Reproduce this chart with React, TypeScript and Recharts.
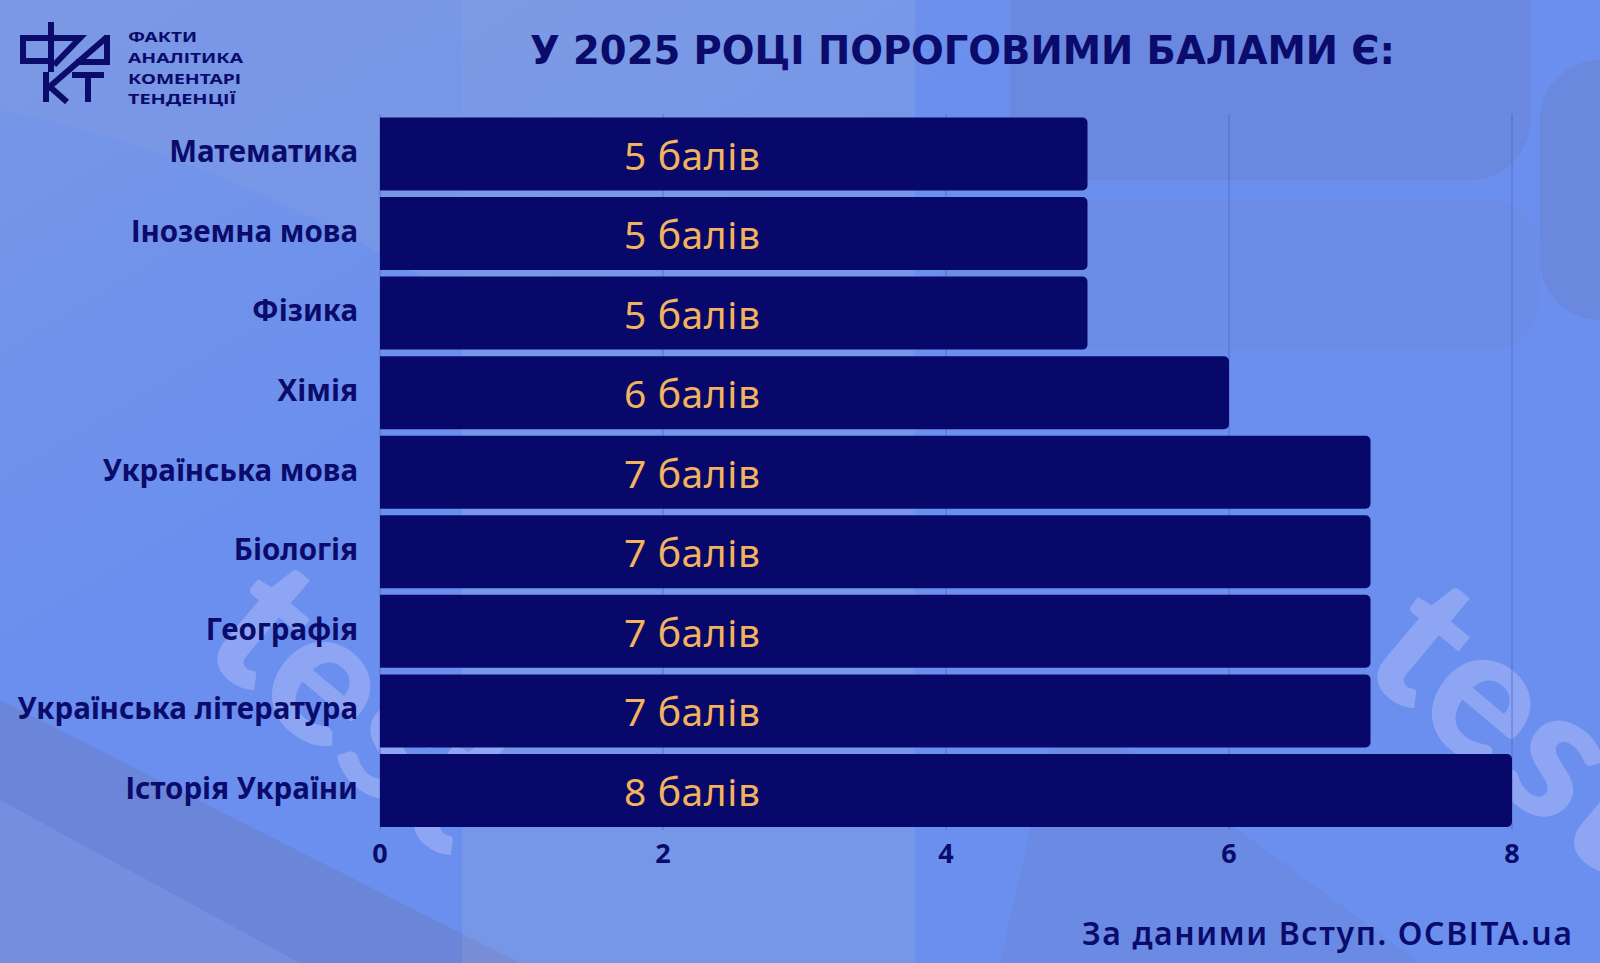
import { BarChart, Bar, XAxis, YAxis, CartesianGrid, LabelList } from 'recharts';

const subjects = [
  'Математика',
  'Іноземна мова',
  'Фізика',
  'Хімія',
  'Українська мова',
  'Біологія',
  'Географія',
  'Українська література',
  'Історія України',
];
const scores = [5, 5, 5, 6, 7, 7, 7, 7, 8];
const xTicks = [0, 2, 4, 6, 8];
const logoLines = ['ФАКТИ', 'АНАЛІТИКА', 'КОМЕНТАРІ', 'ТЕНДЕНЦІЇ'];

const data = subjects.map((subject, i) => ({
  subject,
  score: scores[i],
  label: `${scores[i]} балів`,
}));

const NAVY = '#0b0b6b';
const BAR = '#08086a';
const ORANGE = '#f2b25e';

function ScoreLabel(props: any) {
  const vb = props.viewBox ?? props;
  const { x, y, height } = vb;
  return (
    <text
      x={x + 244}
      y={y + height / 2}
      dominantBaseline="central"
      fill={ORANGE}
      fontSize={39}
      fontFamily="'Noto Sans', sans-serif"
      textLength={136}
      lengthAdjust="spacing"
    >
      {props.value}
    </text>
  );
}

function SubjectTick(props: any) {
  const { x, y, payload } = props;
  return (
    <text
      x={x}
      y={y - 3}
      textAnchor="end"
      dominantBaseline="central"
      fill={NAVY}
      fontSize={29.5}
      fontWeight={700}
      fontFamily="'Noto Sans', sans-serif"
    >
      {payload.value}
    </text>
  );
}

function Background() {
  return (
    <svg width={1600} height={963} style={{ position: 'absolute', left: 0, top: 0 }}>
      <defs>
        <linearGradient id="bg" x1="0" y1="0" x2="1" y2="1">
          <stop offset="0%" stopColor="#7897e6" />
          <stop offset="35%" stopColor="#6a8fee" />
          <stop offset="100%" stopColor="#6a8fee" />
        </linearGradient>
      </defs>
      <rect width={1600} height={963} fill="url(#bg)" />
      {/* top-left lighter area */}
      <path d="M0,0 H462 V300 C360,240 200,150 0,110 Z" fill="#7d99e2" opacity={0.6} />
      {/* keyboard keys, top right */}
      <rect x={1010} y={-60} width={520} height={240} rx={60} fill="#6a84d4" opacity={0.55} />
      <rect x={1540} y={60} width={200} height={260} rx={60} fill="#6a84d4" opacity={0.6} />
      <rect x={940} y={200} width={600} height={150} rx={50} fill="#6f8ad8" opacity={0.3} />
      {/* bottom-left diagonal bands */}
      <path d="M0,700 L520,963 H0 Z" fill="#6c82d2" opacity={0.75} />
      <path d="M0,800 L300,963 H0 Z" fill="#7b95e0" opacity={0.6} />
      <path d="M1060,700 L1420,963 H1000 Z" fill="#6a82d2" opacity={0.35} />
      {/* central band */}
      <rect x={462} y={0} width={453} height={963} fill="#a6b2d2" opacity={0.22} />
      {/* watermarks */}
      <text
        x={195}
        y={650}
        transform="rotate(40 195 650)"
        fontSize={190}
        fontWeight={900}
        fontFamily="Lato, sans-serif"
        fill="#93a8f4"
        opacity={0.9}
      >
        test
      </text>
      <text
        x={1355}
        y={668}
        transform="rotate(40 1355 668)"
        fontSize={190}
        fontWeight={900}
        fontFamily="Lato, sans-serif"
        fill="#93a8f4"
        opacity={0.9}
      >
        test
      </text>
    </svg>
  );
}

function Overlay() {
  const logoLengths = [69, 115, 113, 108];
  const logoBaselines = [42, 63, 84, 104];
  return (
    <svg width={1600} height={963} style={{ position: 'absolute', left: 0, top: 0, pointerEvents: 'none' }}>
      {/* logo mark */}
      <g stroke={NAVY} strokeWidth={6} fill="none" strokeLinecap="butt" strokeLinejoin="miter">
        <path d="M51,22 V72" />
        <path d="M51,38 H23 V61 H51" />
        <path d="M53,38 H80 L54,65" />
        <path d="M107,35 V62 H76" />
        <path d="M107,37 L47,89" />
        <path d="M46,72 V102" />
        <path d="M49,86 L67,102" />
        <path d="M72,75 H104" />
        <path d="M88,75 V102" />
      </g>
      {logoLines.map((line, i) => (
        <text
          key={line}
          x={128}
          y={logoBaselines[i]}
          fontSize={14}
          fontWeight={700}
          fontFamily="'Noto Sans', sans-serif"
          fill={NAVY}
          textLength={logoLengths[i]}
          lengthAdjust="spacingAndGlyphs"
        >
          {line}
        </text>
      ))}
      <text
        x={530}
        y={64}
        fontSize={39}
        fontWeight={700}
        fontFamily="'DejaVu Sans', sans-serif"
        fill={NAVY}
        textLength={865}
        lengthAdjust="spacingAndGlyphs"
      >
        У 2025 РОЦІ ПОРОГОВИМИ БАЛАМИ Є:
      </text>
      <text
        x={1572}
        y={945}
        textAnchor="end"
        fontSize={32}
        fontWeight={600}
        fontFamily="'Noto Sans', sans-serif"
        fill={NAVY}
        textLength={490}
        lengthAdjust="spacing"
      >
        За даними Вступ. ОСВІТА.ua
      </text>
    </svg>
  );
}

export default function App() {
  return (
    <div
      style={{
        position: 'absolute',
        left: 0,
        top: 0,
        width: 1600,
        height: 963,
        overflow: 'hidden',
      }}
    >
      <Background />
      <div style={{ position: 'absolute', left: 0, top: 0 }}>
        <BarChart
          width={1600}
          height={963}
          data={data}
          layout="vertical"
          margin={{ top: 114, right: 88, bottom: 103, left: 0 }}
          barCategoryGap="4.4%"
        >
          <CartesianGrid horizontal={false} stroke="#4f63bf" strokeOpacity={0.7} />
          <XAxis
            type="number"
            domain={[0, 8]}
            ticks={xTicks}
            axisLine={false}
            tickLine={false}
            tickSize={0}
            tickMargin={14}
            tick={{ fill: NAVY, fontSize: 27, fontWeight: 700, fontFamily: "'Noto Sans', sans-serif" }}
          />
          <YAxis
            type="category"
            dataKey="subject"
            width={380}
            axisLine={false}
            tickLine={false}
            tickSize={0}
            tickMargin={22}
            tick={<SubjectTick />}
          />
          <Bar dataKey="score" fill={BAR} radius={[0, 5, 5, 0]} isAnimationActive={false}>
            <LabelList dataKey="label" content={ScoreLabel} />
          </Bar>
        </BarChart>
      </div>
      <Overlay />
    </div>
  );
}
